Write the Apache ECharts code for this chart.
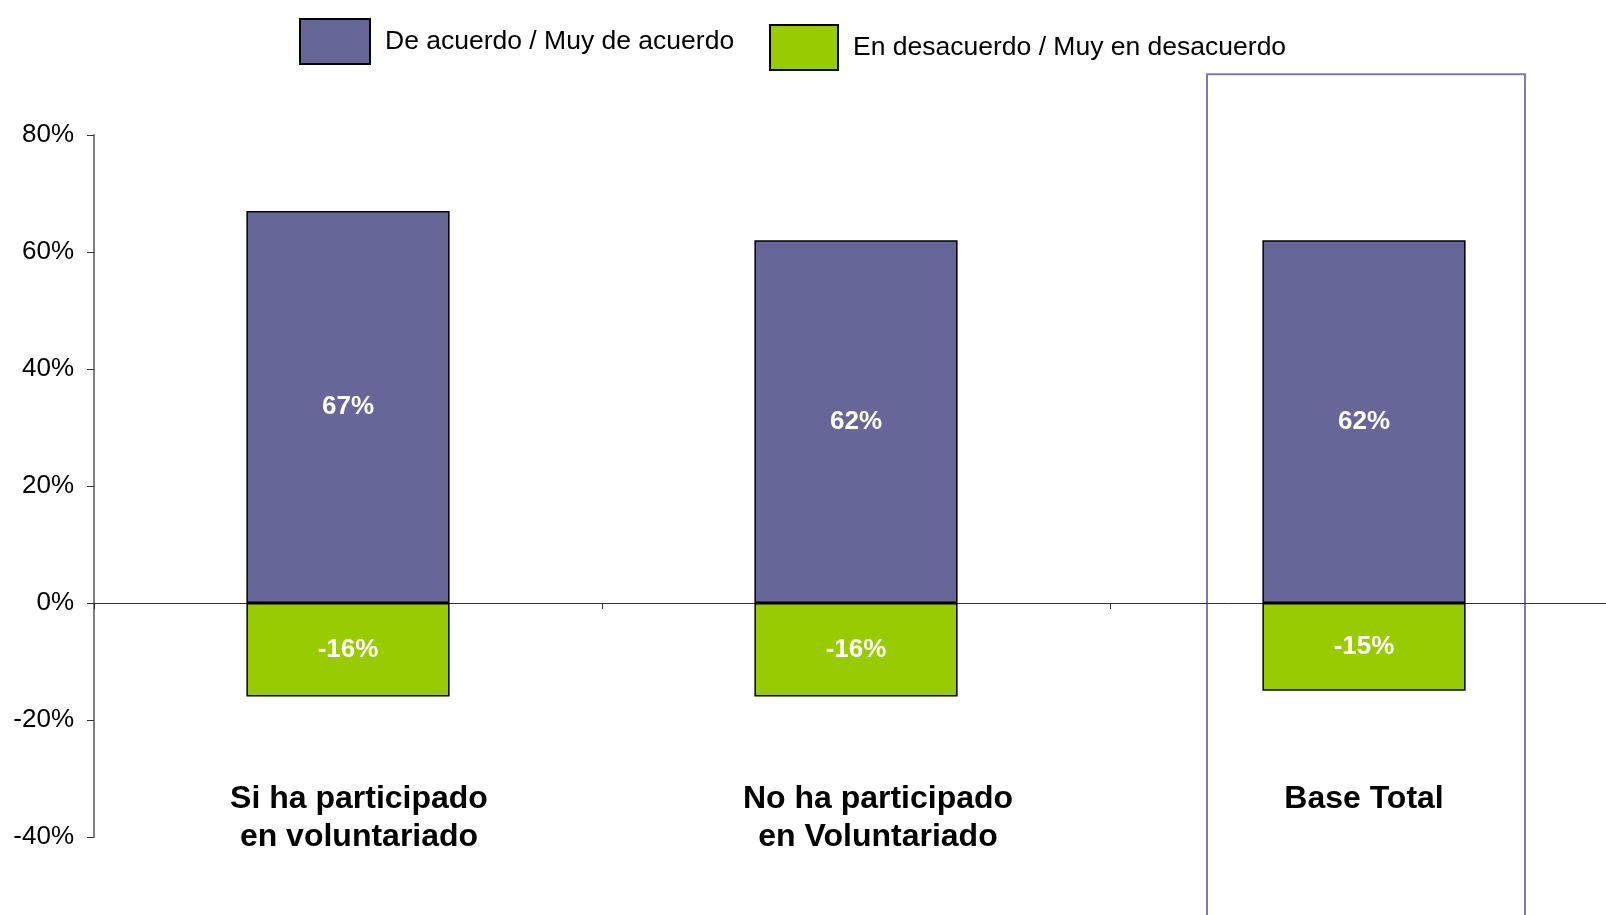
<!DOCTYPE html>
<html>
<head>
<meta charset="utf-8">
<script src="https://cdn.jsdelivr.net/npm/echarts@6/dist/echarts.min.js"></script>
<style>
    html, body { margin: 0; padding: 0; background: #fff; }
    #chart { width: 1606px; height: 915px; }
</style>
</head>
<body>
<div id="chart"></div>
<script>
    // datos
    const categories = ['Si ha participado\nen voluntariado', 'No ha participado\nen Voluntariado', 'Base Total'];
    const acuerdo = [67, 62, 62];
    const desacuerdo = [-16, -16, -15];
    const yTicks = { min: -40, max: 80, interval: 20 };
    const nameAcuerdo = 'De acuerdo / Muy de acuerdo';
    const nameDesacuerdo = 'En desacuerdo / Muy en desacuerdo';

    const FONT = '"Liberation Sans", Arial, sans-serif';
    let myChart = echarts.init(document.getElementById('chart'));

    // las etiquetas de categoría del original no están centradas del todo
    const labelShift = [22, 44, 0];
    const catData = categories.map((c, i) => ({
        value: c,
        textStyle: { padding: [0, 0, 0, labelShift[i]] }
    }));

    const labelStyle = {
        show: true,
        position: 'inside',
        color: '#fff',
        fontFamily: FONT,
        fontWeight: 'bold',
        fontSize: 26,
        formatter: p => p.value + '%'
    };
    const legendText = { fontSize: 26.5, color: '#000', fontFamily: FONT, padding: [0, 0, 0, 10] };

    myChart.setOption({
        animation: false,
        textStyle: { fontFamily: FONT },
        legend: [{
            data: [nameAcuerdo],
            icon: 'rect',
            left: 294, top: 13,
            itemWidth: 70, itemHeight: 45,
            textStyle: legendText
        }, {
            data: [nameDesacuerdo],
            icon: 'rect',
            left: 764, top: 19,
            itemWidth: 68, itemHeight: 45,
            textStyle: legendText
        }],
        grid: { left: 94, right: -12, top: 135, bottom: 78, outerBoundsMode: 'none', containLabel: false },
        xAxis: {
            type: 'category',
            data: catData,
            axisLine: { onZero: true, lineStyle: { color: '#333', width: 1 } },
            axisTick: { show: true, length: 6, lineStyle: { color: '#333' } },
            axisLabel: {
                margin: -57,
                color: '#000',
                fontFamily: FONT,
                fontWeight: 'bold',
                fontSize: 32,
                lineHeight: 38
            }
        },
        yAxis: {
            type: 'value',
            min: yTicks.min, max: yTicks.max, interval: yTicks.interval,
            splitLine: { show: false },
            axisLine: { show: true, lineStyle: { color: '#808080', width: 2 } },
            axisTick: { show: true, length: 7, lineStyle: { color: '#333' } },
            axisLabel: {
                margin: 20,
                color: '#000',
                fontFamily: FONT,
                fontSize: 26,
                formatter: '{value}%'
            }
        },
        series: [{
            name: nameAcuerdo,
            type: 'bar',
            stack: 'total',
            barWidth: '40%',
            data: acuerdo,
            itemStyle: { color: '#666699', borderColor: '#000', borderWidth: 1.5 },
            label: labelStyle
        }, {
            name: nameDesacuerdo,
            type: 'bar',
            stack: 'total',
            barWidth: '40%',
            data: desacuerdo,
            itemStyle: { color: '#99cc00', borderColor: '#000', borderWidth: 1.5 },
            label: labelStyle
        }]
    });

    // marco alrededor de "Base Total", situado con la escala del eje
    const cx = myChart.convertToPixel({ xAxisIndex: 0 }, categories[2]);
    const topY = myChart.convertToPixel({ yAxisIndex: 0 }, 90.4);
    myChart.setOption({
        graphic: [{
            type: 'rect',
            z: -1,
            shape: { x: cx - 157, y: topY, width: 318, height: 915 - topY + 10 },
            style: { fill: 'none', stroke: '#7b7bad', lineWidth: 2 }
        }]
    });
</script>
</body>
</html>
